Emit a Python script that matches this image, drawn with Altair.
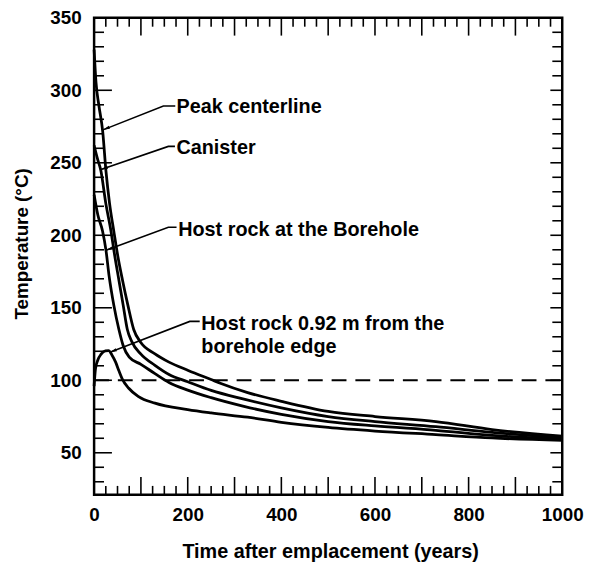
import math
import altair as alt
import pandas as pd

# ---------------- data ----------------
peak_t = [0, 4, 10, 18.4, 25.4, 33, 42, 51, 60.7, 72, 84.6, 99, 130, 160, 201, 250, 271, 328, 400, 500, 600, 730, 850, 1000]
peak_T = [328, 305.6, 290, 271.5, 244, 222, 203, 185, 169, 152, 135, 126.4, 118.2, 112.5, 106.8, 100.5, 97.8, 91.5, 85.5, 78.5, 75, 71.5, 66, 61.5]

can_t = [0, 7, 14.5, 25, 36, 44, 53, 62, 71, 80, 100, 130, 160, 200, 250, 320, 400, 500, 600, 730, 850, 1000]
can_T = [262, 253, 244.5, 222, 203, 186, 169, 152, 135, 127, 118, 110.3, 104, 99, 93, 87, 81, 75, 71.5, 68, 64, 60.5]

bore_t = [0, 8, 18, 25.4, 32, 42, 53, 62, 75, 100, 130, 160, 200, 250, 320, 400, 500, 600, 730, 850, 1000]
bore_T = [228, 214, 203, 189.6, 172, 152, 135, 124, 116, 111, 104.6, 98.5, 93.2, 88, 82, 76.5, 71.5, 68.5, 65.5, 62, 59.5]

far_t = [0, 3, 8, 15, 24, 31, 38, 46, 53, 60, 74, 95, 130, 200, 250, 328, 400, 500, 600, 730, 850, 1000]
far_T = [96, 108, 114, 118, 120.3, 120.5, 117.5, 112.5, 106.5, 101, 94.5, 88.7, 84.2, 79.8, 77.5, 74.5, 71, 67.5, 65, 62.5, 60.2, 58.5]

series_names = ["Peak centerline", "Canister", "Host rock at the Borehole", "Host rock 0.92 m"]

ref_t = [0, 1000]
ref_T = [100, 100]

x_label_values = [0, 200, 400, 600, 800, 1000]
y_label_values = [50, 100, 150, 200, 250, 300, 350]
x_major_ticks = [100, 200, 300, 400, 500, 600, 700, 800, 900]
x_minor_ticks = [v for v in range(25, 1000, 25) if v % 100 != 0]
y_major_ticks = [50, 100, 150, 200, 250, 300]
y_minor_ticks = [v for v in range(30, 350, 10) if v % 50 != 0]

# annotation texts (baseline positions in data units)
ann_text = ["Peak centerline", "Canister", "Host rock at the Borehole",
            "Host rock 0.92 m from the", "borehole edge"]
ann_t = [176, 176, 179.7, 229, 229]
ann_T = [284.1, 255.8, 199.8, 135.0, 118.6]

# leader lines: text end -> elbow -> tip
lead_id = ["a", "a", "a", "b", "b", "b", "c", "c", "c", "d", "d", "d"]
lead_t = [173.4, 148.0, 19.0, 172.7, 158.6, 14.8, 176.1, 158.6, 25.4, 225.6, 204.4, 33.8]
lead_T = [289.2, 289.2, 272.7, 261.3, 261.3, 245.4, 205.5, 205.5, 189.6, 140.6, 140.6, 119.3]

# ---------------- chart ----------------
W, H = 473, 482
X_DOMAIN = [0, 1000]
Y_DOMAIN = [21, 350]
FONT = "Liberation Sans"

xs = alt.Scale(domain=X_DOMAIN, nice=False, zero=False)
ys = alt.Scale(domain=Y_DOMAIN, nice=False, zero=False)

x_axis = alt.Axis(
    values=x_label_values, format="d", domain=False, ticks=False, grid=False, labelPadding=11,
    labelFont=FONT, labelFontSize=19, labelFontWeight="bold", labelColor="black",
    titleFont=FONT, titleFontSize=20, titleFontWeight="bold", titleColor="black",
    titleX=W / 2 + 2, titleY=63, titleBaseline="alphabetic", titleAlign="center",
    labelFlush=False)
y_axis = alt.Axis(
    values=y_label_values, format="d", domain=False, ticks=False, grid=False, labelPadding=13,
    labelFont=FONT, labelFontSize=19, labelFontWeight="bold", labelColor="black",
    titleFont=FONT, titleFontSize=19, titleFontWeight="bold", titleColor="black",
    titleX=-73, titleY=228, titleAngle=270, titleAlign="center", titleBaseline="middle",
    labelFlush=False)

X = alt.X("t:Q", scale=xs, axis=x_axis, title="Time after emplacement (years)")
Y = alt.Y("T:Q", scale=ys, axis=y_axis, title="Temperature (°C)")

frames = []
for name, tt, TT in zip(series_names, [peak_t, can_t, bore_t, far_t], [peak_T, can_T, bore_T, far_T]):
    frames.append(pd.DataFrame({"series": name, "t": tt, "T": TT}))
curves_df = pd.concat(frames, ignore_index=True)

curves = alt.Chart(curves_df).mark_line(
    color="black", strokeWidth=2.8, interpolate="monotone"
).encode(x=X, y=Y, detail="series:N")

ref_df = pd.DataFrame({"t": ref_t, "T": ref_T})
ref_line = alt.Chart(ref_df).mark_line(color="black", strokeWidth=2.2, strokeDash=[15, 9]).encode(x=X, y=Y)


def x_ticks(vals, length, top):
    df = pd.DataFrame({"t": vals})
    return alt.Chart(df).mark_rule(color="black", strokeWidth=1.6).encode(
        x=X,
        y=alt.value(0 if top else H),
        y2=alt.value(length if top else H - length),
    )


def y_ticks(vals, length, right):
    df = pd.DataFrame({"T": vals})
    return alt.Chart(df).mark_rule(color="black", strokeWidth=1.6).encode(
        y=Y,
        x=alt.value(W if right else 0),
        x2=alt.value(W - length if right else length),
    )


tick_layers = [
    x_ticks(x_major_ticks, 18, False), x_ticks(x_minor_ticks, 9, False),
    x_ticks(x_major_ticks, 18, True), x_ticks(x_minor_ticks, 9, True),
    y_ticks(y_major_ticks, 18, False), y_ticks(y_minor_ticks, 10, False),
    y_ticks(y_major_ticks, 12, True), y_ticks(y_minor_ticks, 10, True),
]

ann_df = pd.DataFrame({"label": ann_text, "t": ann_t, "T": ann_T})
ann = alt.Chart(ann_df).mark_text(
    align="left", baseline="alphabetic", font=FONT, fontSize=20, fontWeight="bold", color="black"
).encode(x=X, y=Y, text="label:N")

lead_df = pd.DataFrame({"id": lead_id, "t": lead_t, "T": lead_T})
leaders = alt.Chart(lead_df).mark_line(color="black", strokeWidth=1.6).encode(
    x=X, y=Y, detail="id:N")

# arrowheads at leader tips, oriented along the last segment
px_per_t = W / (X_DOMAIN[1] - X_DOMAIN[0])
px_per_T = H / (Y_DOMAIN[1] - Y_DOMAIN[0])
tips = []
for i in range(0, len(lead_t), 3):
    t1, T1 = lead_t[i + 1], lead_T[i + 1]
    t2, T2 = lead_t[i + 2], lead_T[i + 2]
    dx = (t2 - t1) * px_per_t
    dy = -(T2 - T1) * px_per_T
    ang = math.degrees(math.atan2(dx, -dy)) % 360
    tips.append({"t": t2, "T": T2, "ang": ang})
tips_df = pd.DataFrame(tips)
heads = alt.Chart(tips_df).mark_point(
    shape="M0,0L0.5,2.2L-0.5,2.2Z", filled=True, color="black", size=40, opacity=1
).encode(x=X, y=Y, angle=alt.Angle("ang:Q", scale=None))

chart = alt.layer(curves, ref_line, *tick_layers, leaders, heads, ann).properties(
    width=W, height=H,
    autosize=alt.AutoSizeParams(type="none"),
    padding={"left": 87, "top": 7, "right": 22, "bottom": 65},
    background="white",
).configure_view(stroke="black", strokeWidth=2.5)

chart.save("out.html", embed_options={"renderer": "svg", "actions": False})
